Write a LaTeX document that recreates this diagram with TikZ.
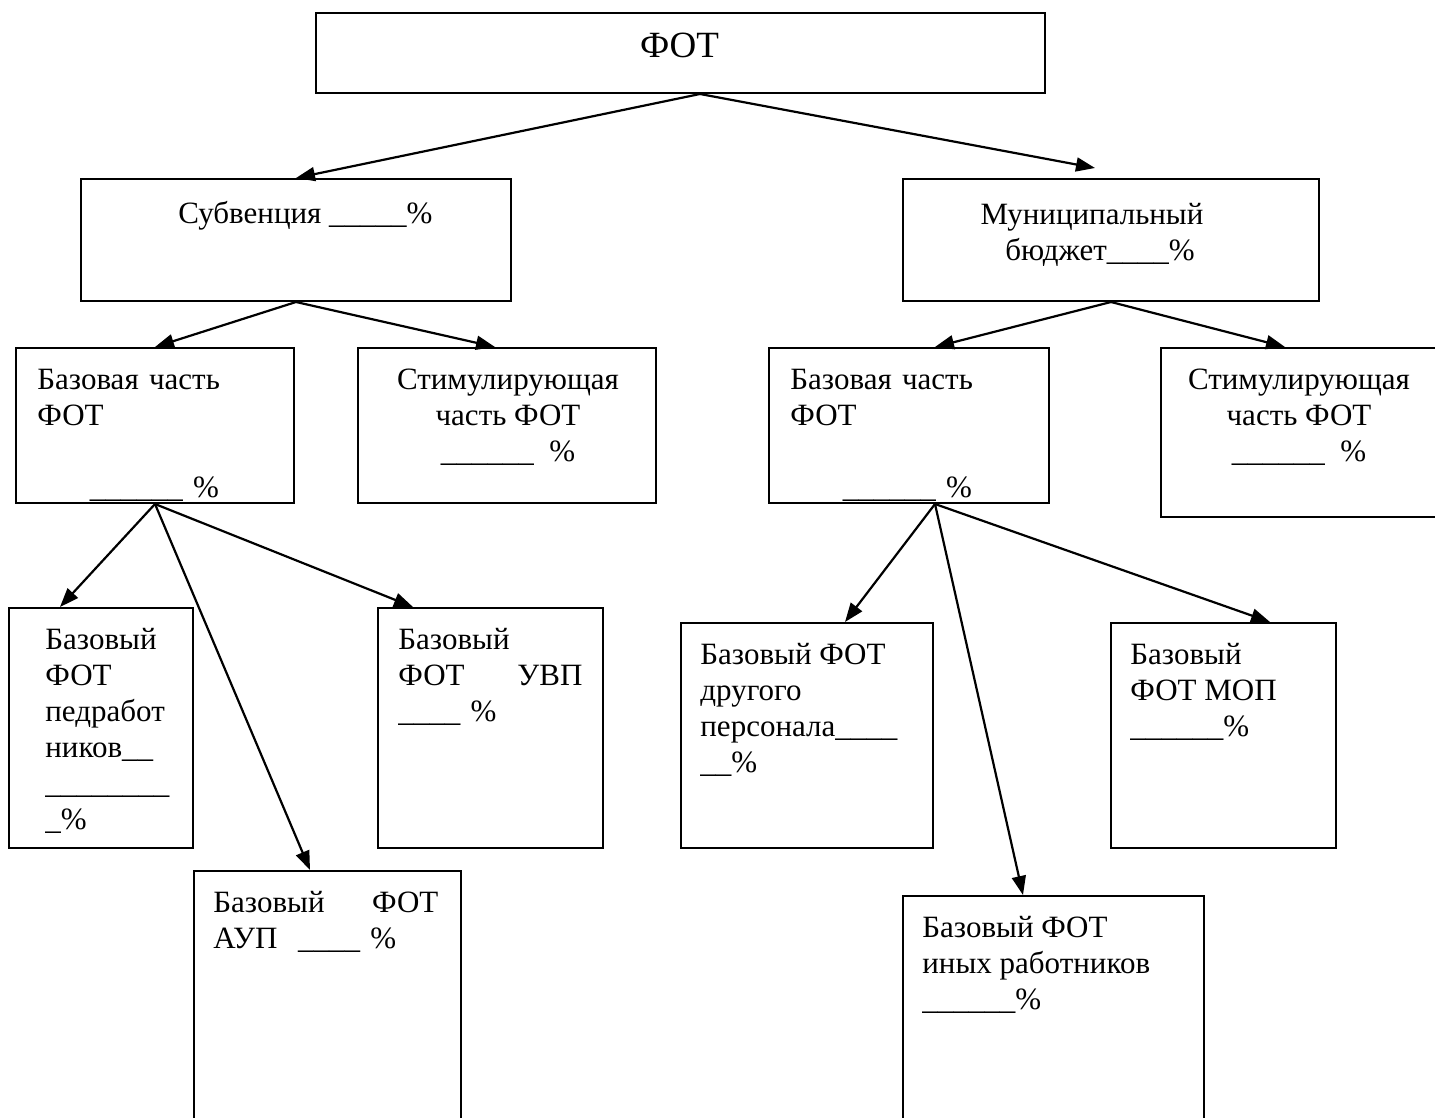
\documentclass[tikz,border=0pt]{standalone}
\usepackage{fontspec}
\setmainfont{Liberation Serif}
\usetikzlibrary{calc,arrows.meta}
\newcommand{\fl}{\rule{0pt}{12pt}}
\begin{document}
\begin{tikzpicture}[x=0.5pt,y=-0.5pt,
  box/.style={draw, line width=1pt, inner sep=0pt, anchor=north west},
  txt/.style={inner sep=0pt, font=\fontsize{15.5pt}{18pt}\selectfont},
  lt/.style={txt, anchor=north west, align=left},
  ct/.style={txt, anchor=north, align=center},
  arr/.style={line width=1.1pt, -{Triangle[length=9.5pt,width=7pt]}}]
\useasboundingbox (0,0) rectangle (1435,1118);
% boxes
\node[box, minimum width=364.5pt, minimum height=40pt] (fot) at (315,12) {};
\node[box, minimum width=215pt, minimum height=61pt] (sub) at (80,178) {};
\node[box, minimum width=208pt, minimum height=61pt] (mun) at (902,178) {};
\node[box, minimum width=139pt, minimum height=77.5pt] (bl) at (15,347) {};
\node[box, minimum width=149pt, minimum height=77.5pt] (sl) at (357,347) {};
\node[box, minimum width=140pt, minimum height=77.5pt] (br) at (768,347) {};
\node[box, minimum width=140pt, minimum height=84.5pt] (sr) at (1160,347) {};
\node[box, minimum width=92pt, minimum height=120pt] (ped) at (8,607) {};
\node[box, minimum width=112.5pt, minimum height=120pt] (uvp) at (377,607) {};
\node[box, minimum width=133.5pt, minimum height=130pt] (aup) at (193,870) {};
\node[box, minimum width=126pt, minimum height=112.5pt] (dr) at (680,622) {};
\node[box, minimum width=112.5pt, minimum height=112.5pt] (mop) at (1110,622) {};
\node[box, minimum width=150.5pt, minimum height=120pt] (inw) at (902,895) {};
% texts
\node[inner sep=0pt, font=\fontsize{18.5pt}{22pt}\selectfont, anchor=base] (tfot) at (679.5,58) {ФОТ};
\node[txt, anchor=base west] (tsub) at (178,224) {Субвенция \_\_\_\_\_\%};
\node[ct] (tmun) at (1100,200) {\fl Муниципальный\hspace*{8pt}\\ бюджет\_\_\_\_\%};
\node[lt, text width=117pt] (tbl) at (37,365) {\fl Базовая часть\\ ФОТ\\[18pt] \makebox[117pt][c]{\_\_\_\_\_\_ \%}};
\node[ct] (tsl) at (508,365) {\fl Стимулирующая\\ часть ФОТ\\ \_\_\_\_\_\_\ \ \%};
\node[lt, text width=117pt] (tbr) at (790,365) {\fl Базовая часть\\ ФОТ\\[18pt] \makebox[117pt][c]{\_\_\_\_\_\_ \%}};
\node[ct] (tsr) at (1299,365) {\fl Стимулирующая\\ часть ФОТ\\ \_\_\_\_\_\_\ \ \%};
\node[lt] (tped) at (45,625) {\fl Базовый\\ ФОТ\\ педработ\\ ников\_\_\\ \_\_\_\_\_\_\_\_\\ \_\%};
\node[lt, text width=92pt] (tuvp) at (398,625) {\fl Базовый\\ ФОТ\hfill УВП\\ \_\_\_\_ \%};
\node[lt, text width=112.5pt] (taup) at (213,888) {\fl Базовый\hfill ФОТ\\ АУП\ \ \_\_\_\_ \%};
\node[lt] (tdr) at (700,640) {\fl Базовый ФОТ\\ другого\\ персонала\_\_\_\_\\ \_\_\%};
\node[lt] (tmop) at (1130,640) {\fl Базовый\\ ФОТ МОП\\ \_\_\_\_\_\_\%};
\node[lt] (tinw) at (922,913) {\fl Базовый ФОТ\\ иных работников\\ \_\_\_\_\_\_\%};
% connectors
\coordinate (fa) at ($(fot.south west)+(385,0)$);
\draw[arr] (fa) -- (sub.north);
\draw[arr] (fa) -- ($(mun.north west)+(193,-10)$);
\draw[arr] (sub.south) -- (bl.north);
\draw[arr] (sub.south) -- ($(sl.north west)+(138,0)$);
\draw[arr] (mun.south) -- ($(br.north west)+(167,0)$);
\draw[arr] (mun.south) -- ($(sr.north west)+(125,0)$);
\draw[arr] (bl.south) -- ($(ped.north west)+(52,0)$);
\draw[arr] (bl.south) -- ($(aup.north west)+(117,0)$);
\draw[arr] (bl.south) -- ($(uvp.north west)+(36,0)$);
\coordinate (ba) at ($(br.south west)+(167,0)$);
\draw[arr] (ba) -- ($(dr.north west)+(165,0)$);
\draw[arr] (ba) -- ($(inw.north west)+(121,0)$);
\draw[arr] (ba) -- ($(mop.north west)+(160,0)$);
\end{tikzpicture}
\end{document}
